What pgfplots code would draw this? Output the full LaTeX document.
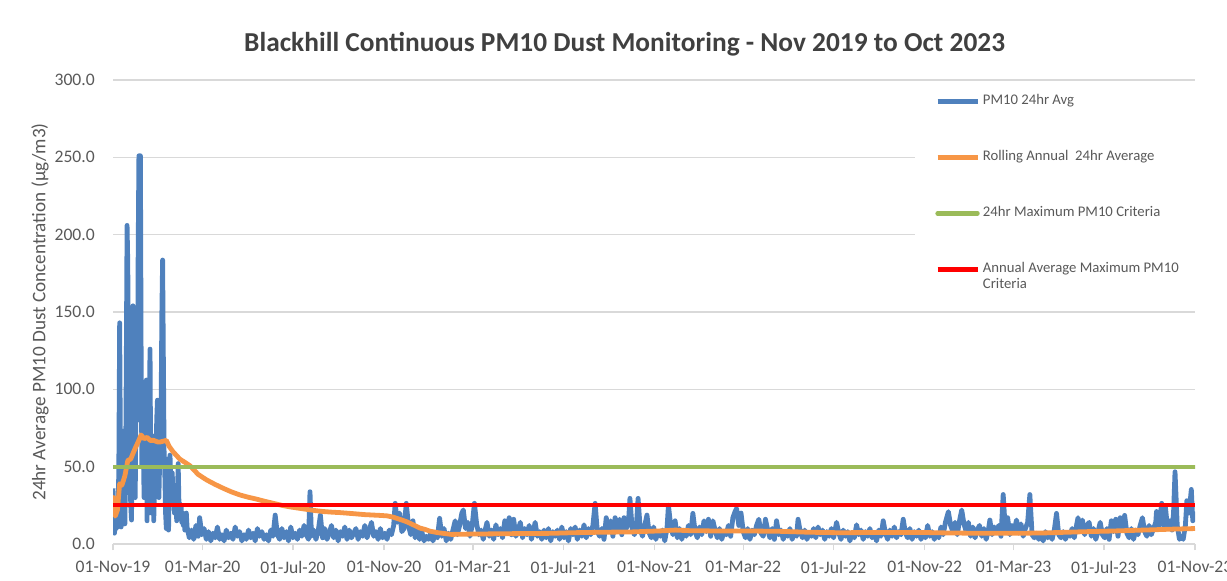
\documentclass[border=0pt]{standalone}
\usepackage{fontspec}
\setmainfont{Carlito}
\usepackage{pgfplots}
\pgfplotsset{compat=1.18}
\definecolor{pmblue}{HTML}{4F81BD}
\definecolor{pmorange}{HTML}{F79646}
\definecolor{pmgreen}{HTML}{9BBB59}
\definecolor{pmred}{HTML}{FF0000}
\definecolor{gridgray}{HTML}{D9D9D9}
\definecolor{txtgray}{HTML}{595959}
\definecolor{titlegray}{HTML}{404040}

\pgfplotstableread{
day val
0 36
1 22
2 7
3 14
4 10
5 26
6 12
7 11
8 60
9 143
10 60
11 11
12 30
13 48
14 73
15 30
16 13
17 45
18 120
19 206
20 180
21 60
22 33
23 40
24 25
25 15.5
26 80
27 154
28 70
29 47
30 30
31 90
32 150
33 80
34 190
35 251
36 251
37 251
38 120
39 50
40 85
41 60
42 30
43 70
44 50
45 106
46 15
47 100
48 60
49 85
50 126
51 40
52 20
53 70
54 55
55 15
56 35
57 60
58 45
59 80
60 93
61 82
62 30
63 55
64 50
65 90
66 150
67 183.6
68 120
69 60
70 45
71 20
72 10
73 30
74 55
75 9
76 40
77 57.5
78 37
79 34
80 46
81 28
82 34
83 20
84 26
85 38
86 15
87 30
88 52
89 27
90 26
91 18
92 24
93 14
94 20
95 12
96 17
97 9
98 13
99 20
100 11
103 4
106 9
109 3
112 12
115 5
117 17
120 6
123 10
126 3
129 8
132 2
135 7
138 4
141 11
144 3
147 6
150 2
153 9
156 4
159 7
162 3
165 11
168 5
171 8
174 2
177 6
180 3
183 9
186 4
189 7
192 2
195 10
198 5
201 8
204 3
207 6
210 2
213 9
216 5
219 18.7
222 6
225 3
228 10
231 4
234 8
237 2
240 11
243 4
246 7
249 3
252 9
255 5
258 12
261 6
264 3
266 33.8
268 5
271 9
274 3
277 8
280 18.7
283 4
286 10
289 3
292 7
295 12
298 4
301 9
304 2
307 8
310 5
313 11
316 3
319 9
322 4
325 7
328 10
331 3
334 8
337 5
340 12
343 4
346 9
349 14
352 5
355 8
358 3
361 10
364 4
367 7
370 3
373 9
376 6
379 12
381 26.3
384 14
387 20
390 8
393 10
396 26.3
399 12
402 6
405 15
408 4
411 9
414 3
417 8
420 2
423 5
426 3
429 7
432 2
435 6
438 4
441 16.6
444 5
447 10
450 2
453 7
456 3
459 9
462 15
465 6
468 12
471 20
473 22
476 10
479 14
482 5
485 12
488 26.3
491 13
494 6
497 9
500 3
503 10
505 14
508 5
511 9
514 3
517 12.4
520 6
523 10
526 4
529 15
532 8
535 17
538 6
541 16
544 5
547 9
550 14
553 4
556 10
559 6
562 12
565 3
568 9
570 14
573 5
576 8
579 3
582 9
585 4
588 10
591 2
594 8
597 5
600 9
603 3
606 11
609 4
612 8
615 2
618 10
621 6
624 11
627 3
630 9
633 5
636 12.4
639 4
642 10
645 6
648 12
651 26.3
654 8
657 5
660 10
663 3
666 17
669 8
672 15
675 5
678 17
681 9
684 16
687 6
690 17
693 10
696 14
698 29.5
701 10
704 6
707 14
709 29.5
712 9
715 5
718 12
721 18.7
724 7
727 4
730 11
733 3
736 8
739 5
742 9
745 2
748 10
750 25
753 12
756 6
759 15
762 4
765 10
768 3
771 9
774 5
777 12
780 6
783 19.8
786 8
789 4
792 11
795 6
798 15
801 8
804 16
807 5
810 15
813 9
816 4
819 10
822 3
825 8
828 6
831 12
834 5
837 17
840 21
842 23
845 12
848 20
851 8
854 4
857 10
860 3
863 9
866 6
869 12
872 16
875 7
878 5
881 16
884 9
887 4
890 10
893 3
896 15
899 6
902 9
905 3
908 8
911 5
914 10
917 3
920 7
923 5
925 16
928 8
931 4
934 9
937 3
940 7
943 5
946 10
949 4
952 11
955 6
958 9
961 3
964 8
967 5
970 10
973 4
977 14
980 7
983 3
986 9
989 5
992 8
995 2
998 7
1001 4
1004 12.4
1007 6
1010 9
1013 3
1016 8
1019 5
1022 10
1025 4
1028 7
1031 2
1034 9
1037 5
1040 15
1043 7
1046 3
1049 9
1052 5
1055 11
1058 4
1061 8
1064 6
1067 16
1070 7
1073 4
1076 10
1079 3
1082 8
1085 5
1088 9
1091 3
1094 7
1097 4
1100 12
1103 5
1106 8
1109 3
1112 7
1115 4
1118 11
1121 6
1124 14
1128 20.9
1131 12
1134 8
1137 14
1140 6
1143 15
1146 22
1149 13
1152 8
1155 14
1158 5
1161 11
1164 4
1167 9
1170 12
1173 5
1176 10
1179 3
1182 9
1184 15.5
1187 6
1190 11
1193 8
1196 12
1199 5
1202 32
1205 8
1208 17
1211 6
1214 12
1217 9
1220 15.5
1223 7
1226 13
1229 5
1232 10
1235 14
1238 32
1241 6
1244 4
1247 7
1250 3
1253 6
1256 2
1259 8
1262 4
1265 7
1268 3
1271 9
1274 19.8
1277 6
1280 4
1283 8
1286 3
1289 7
1292 5
1295 10
1298 4
1301 12
1303 17
1306 8
1309 15.5
1312 6
1315 12
1318 14
1321 5
1324 10
1327 3
1330 8
1333 14
1336 6
1339 4
1342 10
1345 3
1348 15
1351 8
1354 16
1357 5
1360 17
1363 9
1366 18.5
1369 7
1372 4
1375 10
1378 3
1381 9
1384 6
1387 12
1390 17
1393 8
1396 5
1399 12
1402 6
1405 10
1408 14
1409 21
1412 10
1414 18
1416 26.3
1419 12
1421 24
1424 10
1427 15
1430 9
1432 20
1434 46.7
1437 12
1440 3
1442 5
1445 3
1448 12
1450 28
1453 20
1456 35.3
1458 15
1461 21
}\pmten

\pgfplotstableread{
day val
0 25
1 30
3 18
6 22
9 39
12 38
16 44
20 54
24 55
27 58.6
31 63
34 66
38 70.5
42 68
46 69
50 67
55 67
60 66
64 66
68 66.5
72 67
76 63
81 59.7
90 55
104 50.6
115 45
126.5 41.4
138 38.5
149 36
160 33.7
171.5 31.7
183 30.2
194 29
205 27.6
216.5 26.3
228 25
239 24
250 23.2
261.5 22.4
273 21.6
284 21
295 20.6
306.5 20.3
320 19.8
340 19
360 18.5
370 18.2
378 17.4
387 16
396.6 14.4
405 12.5
414.5 10.3
421 9.5
428 8.3
439 7.3
457 6.2
480 6.4
520 6.6
560 6.8
592 6.9
620 7.3
660 7.6
700 7.8
740 8.5
759 9
780 8.6
820 8.4
860 8.4
900 8.2
940 7.6
980 7.3
1020 7.4
1060 7.5
1089 7.5
1120 7.2
1173 6.9
1220 6.9
1260 7.2
1308 7.9
1350 8.4
1398 9.1
1430 9.6
1461 10
}\rolling

\begin{document}
\begin{tikzpicture}
\begin{axis}[
  at={(70.625pt,22.5pt)}, anchor=south west,
  scale only axis, width=676.25pt, height=290pt,
  xmin=0, xmax=1461, ymin=0, ymax=300,
  axis x line=bottom, axis y line=left,
  axis line style={-, draw=gridgray, line width=0.75pt},
  y axis line style={draw=none},
  xtick={0,121,243,366,486,608,731,851,973,1096,1216,1338,1461},
  xticklabels={01-Nov-19,01-Mar-20,01-Jul-20,01-Nov-20,01-Mar-21,01-Jul-21,01-Nov-21,01-Mar-22,01-Jul-22,01-Nov-22,01-Mar-23,01-Jul-23,01-Nov-23},
  ytick={0,50,100,150,200,250,300},
  ymajorgrids, grid style={gridgray, line width=0.75pt},
  xtick align=outside, major tick length=3.75pt,
  x tick style={draw=gridgray, line width=0.75pt},
  y tick style={draw=none},
  tick label style={font=\fontsize{11}{13}\selectfont, text=txtgray},
  xticklabel style={yshift=-3.5pt},
  yticklabel style={xshift=-6pt},
  /pgf/number format/assume math mode=true,
  yticklabel={\pgfmathprintnumber[fixed, fixed zerofill, precision=1]{\tick}},
  ylabel={24hr Average PM10 Dust Concentration (µg/m3)},
  every axis y label/.style={at={(axis description cs:-0.0674,0.5)}, rotate=90, anchor=center, font=\fontsize{12}{14}\selectfont, text=txtgray},
  title={Blackhill Continuous PM10 Dust Monitoring - Nov 2019 to Oct 2023},
  every axis title/.style={at={(axis description cs:0.4728,1.0776)}, anchor=center, font=\bfseries\fontsize{17.1}{20}\selectfont, text=titlegray},
  legend style={at={(axis cs:1083,297)}, anchor=north west, fill=white, draw=none,
    font=\fontsize{9.2}{10}\selectfont, text=txtgray,
    inner xsep=12.5pt, inner ysep=4pt, row sep=22.5pt,
    nodes={inner sep=2pt, text height=6.5pt, text depth=2pt}},
  legend cell align=left,
  legend image code/.code={\draw[#1, line width=2.7pt] (0pt,0pt) -- (25pt,0pt);},
]
\addplot[pmblue, line width=3pt, line join=round] table[x=day, y=val] {\pmten};
\addlegendentry{PM10 24hr Avg}
\addplot[pmorange, line width=3pt, line join=round] table[x=day, y=val] {\rolling};
\addlegendentry{Rolling Annual\ \ 24hr Average}
\addplot[pmgreen, line width=2.7pt, line cap=round] coordinates {(0,50) (1461,50)};
\addlegendentry{24hr Maximum PM10 Criteria}
\addplot[pmred, line width=2.7pt] coordinates {(0,25) (1461,25)};
\addlegendentry{\parbox[t]{130pt}{Annual Average Maximum PM10\\Criteria}}
\end{axis}
\pgfresetboundingbox
\path[use as bounding box] (0,0) rectangle (766.875pt,362.5pt);
\end{tikzpicture}
\end{document}
